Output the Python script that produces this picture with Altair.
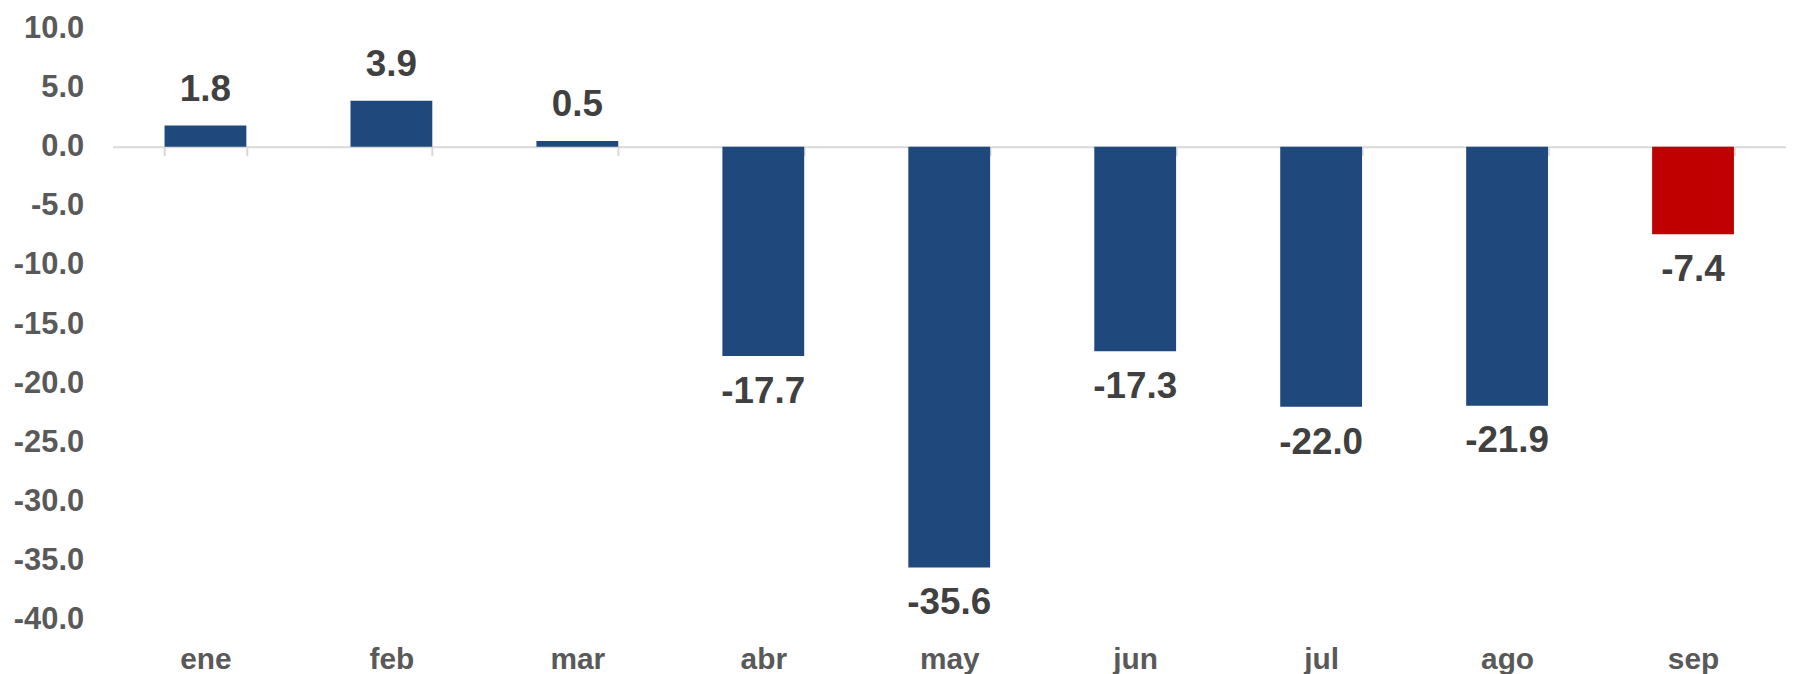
import altair as alt
import pandas as pd

meses = ["ene", "feb", "mar", "abr", "may", "jun", "jul", "ago", "sep"]
valores = [1.8, 3.9, 0.5, -17.7, -35.6, -17.3, -22.0, -21.9, -7.4]
grupo = ["hist", "hist", "hist", "hist", "hist", "hist", "hist", "hist", "actual"]
y_ticks = [10, 5, 0, -5, -10, -15, -20, -25, -30, -35, -40]

df = pd.DataFrame({"mes": meses, "valor": valores, "grupo": grupo})

H = 594
W = 1682
y_min, y_max = -40, 10
zero_from_top = (y_max - 0) / (y_max - y_min) * H
x_offset = -(H - zero_from_top)

fmt_expr = "replace(format(datum.value, '.1f'), '\u2212', '-')"

x_enc = alt.X(
    "mes:N",
    sort=meses,
    title=None,
    scale=alt.Scale(paddingInner=0.56, paddingOuter=0.28),
    axis=alt.Axis(
        orient="bottom",
        offset=x_offset,
        domainColor="#D9D9D9",
        domainWidth=2,
        tickColor="#D9D9D9",
        tickWidth=2,
        tickSize=9,
        tickBand="extent",
        labelAngle=0,
        labelPadding=491,
        labelFont="Liberation Sans",
        labelFontSize=30,
        labelFontWeight="bold",
        labelColor="#595959",
        grid=False,
    ),
)

y_enc = alt.Y(
    "valor:Q",
    title=None,
    scale=alt.Scale(domain=[y_min, y_max], nice=False, zero=True),
    axis=alt.Axis(
        values=y_ticks,
        labelExpr=fmt_expr,
        domain=False,
        ticks=False,
        grid=False,
        labelPadding=29,
        labelFont="Liberation Sans",
        labelFontSize=31,
        labelFontWeight="bold",
        labelColor="#595959",
    ),
)

base = alt.Chart(df).transform_calculate(
    etiqueta="replace(format(datum.valor, '.1f'), '\u2212', '-')"
)

bars = base.mark_bar().encode(
    x=x_enc,
    y=y_enc,
    color=alt.Color(
        "grupo:N",
        scale=alt.Scale(domain=["hist", "actual"], range=["#1F497D", "#C00000"]),
        legend=None,
    ),
)

text_style = dict(
    font="Liberation Sans",
    fontSize=37,
    fontWeight="bold",
    color="#404040",
    baseline="middle",
    align="center",
)

pos_text = base.transform_filter("datum.valor >= 0").mark_text(dy=-36, **text_style).encode(
    x=alt.X("mes:N", sort=meses),
    y=alt.Y("valor:Q"),
    text=alt.Text("etiqueta:N"),
)

neg_text = base.transform_filter("datum.valor < 0").mark_text(dy=36, **text_style).encode(
    x=alt.X("mes:N", sort=meses),
    y=alt.Y("valor:Q"),
    text=alt.Text("etiqueta:N"),
)

chart = (
    alt.layer(bars, pos_text, neg_text)
    .properties(width=W, height=H, padding={"left": 5, "top": 3, "right": 0, "bottom": 0})
    .configure_view(stroke=None)
)

chart.save("out.html", embed_options={"renderer": "svg", "actions": False})
